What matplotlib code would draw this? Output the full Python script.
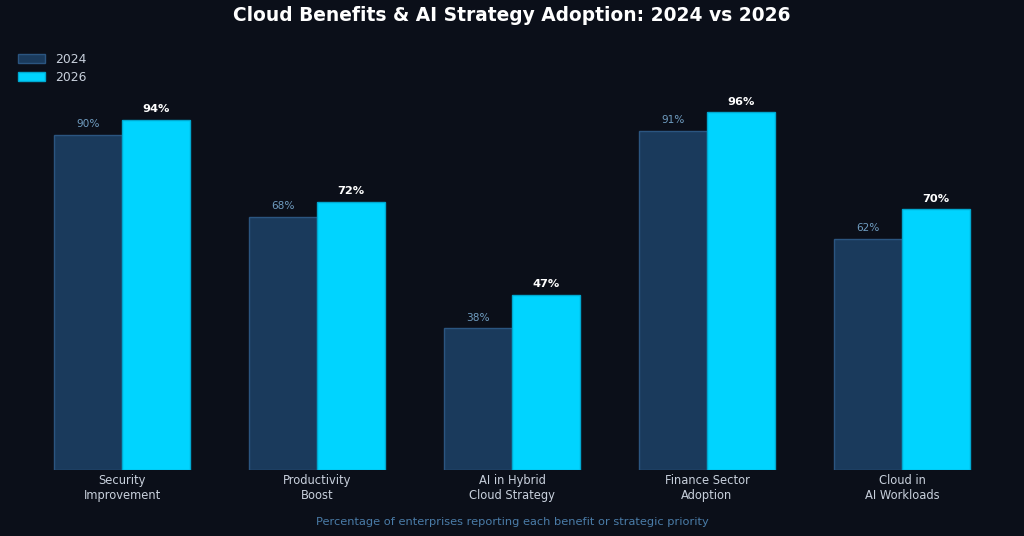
import numpy as np
import matplotlib.pyplot as plt

categories = ['Security\nImprovement', 'Productivity\nBoost', 'AI in Hybrid\nCloud Strategy',
              'Finance Sector\nAdoption', 'Cloud in\nAI Workloads']
vals_2024 = [90, 68, 38, 91, 62]
vals_2026 = [94, 72, 47, 96, 70]

bg = '#0b0f19'
c24 = '#1a3a5c'
c26 = '#00d4ff'

fig = plt.figure(figsize=(10.24, 5.36), dpi=100, facecolor=bg)
ax = fig.add_axes([0.024, 0.123, 0.952, 0.73])
ax.set_facecolor(bg)

x = np.arange(len(categories))
w = 0.35
b1 = ax.bar(x - w / 2, vals_2024, w, color=c24, edgecolor='#2b5580', linewidth=1, label='2024')
b2 = ax.bar(x + w / 2, vals_2026, w, color=c26, edgecolor='#00a8d0', linewidth=1, label='2026')

for xi, v in zip(x, vals_2024):
    ax.text(xi - w / 2, v + 1.5, f'{v}%', ha='center', va='bottom', color='#6f9cc0', fontsize=7.6)
for xi, v in zip(x, vals_2026):
    ax.text(xi + w / 2, v + 1.5, f'{v}%', ha='center', va='bottom', color='white',
            fontsize=8.2, fontweight='bold')

ax.set_xlim(-0.5, 4.5)
ax.set_ylim(0, 105)
ax.set_xticks(x)
ax.set_xticklabels(categories, color='#c8d0dc', fontsize=8.3)
ax.tick_params(axis='x', length=0, pad=3)
ax.set_yticks([])
for s in ax.spines.values():
    s.set_visible(False)

leg = fig.legend(handles=[b1, b2], loc='upper left', bbox_to_anchor=(0.0176, 0.901),
                 frameon=False, fontsize=8.9, labelcolor='#c8d0dc', borderpad=0, borderaxespad=0,
                 handlelength=2.2, handleheight=0.75, labelspacing=0.4, handletextpad=0.8)

fig.text(0.5, 0.971, 'Cloud Benefits & AI Strategy Adoption: 2024 vs 2026', ha='center', va='center',
         color='white', fontsize=13.4, fontweight='bold')
fig.text(0.5, 0.026, 'Percentage of enterprises reporting each benefit or strategic priority',
         ha='center', va='center', color='#4a7ca8', fontsize=8.2)

fig.savefig('out.png', dpi=100, facecolor=bg)
